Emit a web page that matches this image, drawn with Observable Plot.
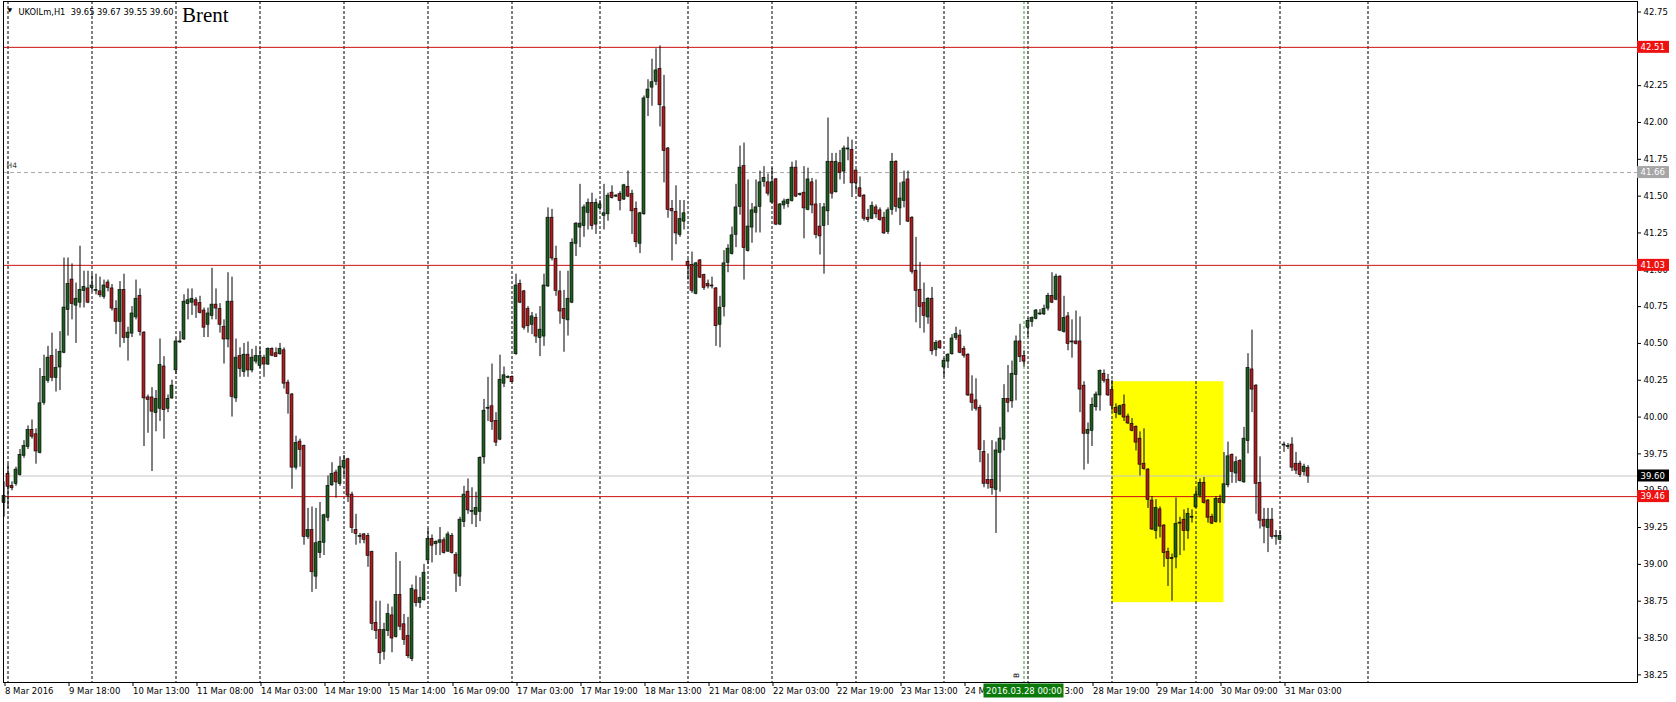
<!DOCTYPE html>
<html><head><meta charset="utf-8">
<script src="https://cdn.jsdelivr.net/npm/d3@7"></script>
<script src="https://cdn.jsdelivr.net/npm/@observablehq/plot@0.6"></script>
<style>html,body{margin:0;padding:0;background:#fff;overflow:hidden}</style>
</head><body><div id="chart"></div>
<script>
// ---- data: hourly UKOIL candles, bar index 0..326 ----
const opens = [
39.42,39.61,39.53,39.55,39.61,39.74,39.80,39.91,39.88,39.76,
40.10,40.25,40.41,40.27,40.34,40.44,40.73,40.93,40.76,40.78,
40.86,40.87,40.88,40.86,40.85,40.82,40.91,40.87,40.73,40.65,
40.86,40.54,40.57,40.68,40.82,40.57,40.13,40.13,40.03,40.06,
40.34,40.06,40.13,40.32,40.51,40.53,40.77,40.78,40.79,40.77,
40.72,40.63,40.69,40.76,40.73,40.61,40.53,40.78,40.13,40.41,
40.31,40.42,40.32,40.38,40.35,40.40,40.36,40.46,40.43,40.43,
40.45,40.23,40.15,39.66,39.83,39.80,39.19,39.23,38.92,39.08,
39.15,39.32,39.54,39.62,39.55,39.66,39.71,39.47,39.23,39.19,
39.20,39.19,39.08,38.60,38.55,38.41,38.55,38.65,38.51,38.79,
38.59,38.51,38.36,38.82,38.74,38.76,39.03,39.17,39.14,39.15,
39.16,39.09,39.19,39.06,38.92,39.29,39.49,39.36,39.34,39.36,
39.73,40.06,40.07,39.97,39.85,40.23,40.27,40.27,40.43,40.90,
40.85,40.73,40.63,40.67,40.54,40.55,40.89,41.35,41.07,40.85,
40.73,40.66,40.78,41.18,41.29,41.30,41.39,41.45,41.31,41.42,
41.37,41.38,41.52,41.50,41.51,41.48,41.56,41.51,41.41,41.18,
41.38,42.17,42.24,42.28,42.36,42.10,41.82,41.41,41.39,41.24,
41.33,41.05,41.03,40.84,41.06,40.96,40.90,40.89,40.87,40.63,
40.75,41.05,41.11,41.24,41.43,41.70,41.13,41.29,41.39,41.43,
41.60,41.59,41.46,41.61,41.31,41.44,41.45,41.47,41.69,41.51,
41.52,41.41,41.59,41.44,41.29,41.30,41.40,41.73,41.53,41.72,
41.67,41.82,41.81,41.67,41.55,41.50,41.35,41.35,41.42,41.40,
41.35,41.26,41.41,41.73,41.42,41.47,41.61,41.35,40.99,40.86,
40.77,40.68,40.80,40.46,40.51,40.34,40.38,40.43,40.54,40.55,
40.46,40.42,40.15,40.11,40.06,39.76,39.57,39.57,39.51,39.76,
39.85,40.12,40.11,40.29,40.51,40.41,40.61,40.65,40.67,40.70,
40.70,40.74,40.82,40.80,40.95,40.58,40.68,40.51,40.51,40.51,
40.21,39.89,39.91,40.07,40.15,40.29,40.25,40.18,40.06,40.02,
40.08,40.00,39.95,39.93,39.85,39.68,39.64,39.43,39.23,39.37,
39.26,39.08,39.04,39.05,39.28,39.30,39.23,39.32,39.39,39.47,
39.55,39.43,39.32,39.29,39.44,39.42,39.54,39.74,39.62,39.70,
39.56,39.84,40.32,40.21,39.55,39.30,39.25,39.30,39.19,39.17,
39.81,39.80,39.81,39.68,39.68,39.63,39.65];
const highs = [
39.56,39.68,39.56,39.66,39.78,39.84,39.94,39.98,39.92,40.33,
40.42,40.48,40.57,40.46,40.58,41.08,41.08,41.04,40.91,41.16,
40.99,40.99,40.97,40.97,40.95,40.93,40.93,40.90,40.79,40.92,
40.97,40.61,40.75,40.93,40.87,40.58,40.15,40.20,40.18,40.53,
40.41,40.15,40.25,40.53,40.58,40.83,40.87,40.87,40.81,40.82,
40.74,40.74,41.01,40.87,40.77,40.66,40.98,40.95,40.53,40.47,
40.50,40.51,40.46,40.48,40.47,40.42,40.47,40.47,40.47,40.50,
40.47,40.25,40.16,39.87,39.85,39.81,39.38,39.39,39.38,39.42,
39.34,39.60,39.69,39.64,39.73,39.74,39.72,39.49,39.34,39.21,
39.21,39.21,39.09,38.75,38.75,38.60,38.73,38.71,39.08,39.02,
38.66,38.64,38.86,38.92,38.91,39.00,39.24,39.20,39.16,39.25,
39.18,39.22,39.21,39.08,39.32,39.53,39.58,39.52,39.49,39.73,
40.12,40.27,40.36,40.03,40.42,40.34,40.28,40.28,40.97,40.93,
40.86,40.75,40.71,40.70,40.75,40.97,41.42,41.41,41.16,40.99,
40.86,40.99,41.21,41.32,41.58,41.44,41.48,41.52,41.48,41.47,
41.58,41.52,41.57,41.51,41.53,41.58,41.67,41.54,41.46,41.39,
42.18,42.29,42.43,42.50,42.52,42.32,41.83,41.47,41.57,41.47,
41.47,41.07,41.12,41.05,41.07,40.97,40.93,40.95,40.88,40.82,
41.13,41.17,41.29,41.58,41.84,41.86,41.61,41.45,41.61,41.67,
41.70,41.65,41.69,41.62,41.45,41.48,41.48,41.73,41.74,41.52,
41.70,41.69,41.62,41.61,41.45,41.45,42.03,41.79,41.79,41.81,
41.84,41.90,41.88,41.68,41.63,41.51,41.41,41.46,41.44,41.42,
41.39,41.42,41.79,41.74,41.59,41.67,41.67,41.36,41.22,41.05,
40.91,40.81,40.88,40.52,40.52,40.40,40.43,40.56,40.61,40.59,
40.48,40.43,40.28,40.26,40.08,39.84,39.75,39.84,39.83,39.93,
40.22,40.35,40.38,40.55,40.63,40.45,40.67,40.68,40.73,40.73,
40.76,40.84,40.98,40.97,40.96,40.82,40.71,40.66,40.72,40.68,
40.24,39.96,40.13,40.17,40.32,40.32,40.29,40.25,40.09,40.08,
40.15,40.02,39.99,39.94,39.90,39.92,39.65,39.46,39.44,39.39,
39.27,39.11,39.07,39.45,39.32,39.37,39.38,39.37,39.51,39.58,
39.59,39.44,39.34,39.46,39.47,39.76,39.83,39.75,39.73,39.71,
39.93,40.43,40.59,40.22,39.73,39.38,39.38,39.38,39.23,39.23,
39.83,39.82,39.86,39.76,39.70,39.68,39.67];
const lows = [
39.32,39.38,39.50,39.53,39.60,39.72,39.78,39.85,39.68,39.75,
40.08,40.23,40.24,40.17,40.18,40.43,40.55,40.66,40.50,40.74,
40.74,40.77,40.85,40.83,40.81,40.80,40.85,40.72,40.56,40.47,
40.50,40.38,40.54,40.66,40.55,39.80,39.89,39.63,39.90,39.97,
39.85,40.03,40.12,40.29,40.50,40.52,40.66,40.69,40.67,40.70,
40.54,40.54,40.66,40.66,40.57,40.36,40.47,40.00,40.10,40.27,
40.27,40.27,40.30,40.36,40.33,40.27,40.35,40.41,40.41,40.42,
40.19,40.02,39.51,39.64,39.66,39.13,39.17,38.81,38.83,39.04,
39.06,39.29,39.53,39.45,39.53,39.59,39.42,39.21,39.13,39.14,
39.14,38.98,38.55,38.49,38.32,38.35,38.51,38.40,38.50,38.55,
38.45,38.36,38.34,38.71,38.70,38.75,39.00,39.01,39.06,39.06,
39.07,39.08,39.07,38.81,38.85,39.25,39.34,39.27,39.25,39.29,
39.68,39.97,39.91,39.80,39.84,40.20,40.26,40.24,40.42,40.77,
40.59,40.57,40.56,40.50,40.41,40.48,40.88,41.06,40.82,40.63,
40.44,40.55,40.77,41.09,41.15,41.22,41.27,41.27,41.24,41.40,
41.27,41.33,41.48,41.49,41.40,41.47,41.49,41.24,41.15,41.11,
41.37,42.04,42.11,42.25,41.97,41.59,41.35,41.06,41.17,41.22,
41.27,40.93,40.84,40.83,40.94,40.86,40.87,40.87,40.48,40.47,
40.68,40.98,41.10,41.15,41.37,40.93,41.12,41.18,41.25,41.25,
41.56,41.50,41.45,41.30,41.30,41.41,41.42,41.46,41.49,41.50,
41.21,41.40,41.38,41.21,41.10,40.97,41.30,41.48,41.52,41.61,
41.58,41.74,41.49,41.53,41.49,41.33,41.32,41.34,41.35,41.33,
41.24,41.24,41.37,41.39,41.30,41.42,41.32,40.97,40.64,40.60,
40.57,40.63,40.42,40.41,40.46,40.27,40.33,40.42,40.52,40.43,
40.40,40.14,40.04,40.04,39.69,39.52,39.51,39.47,39.21,39.49,
39.77,40.03,40.06,40.11,40.37,40.34,40.54,40.61,40.66,40.69,
40.69,40.72,40.77,40.79,40.58,40.57,40.45,40.40,40.49,40.03,
39.64,39.68,39.80,40.04,40.04,40.23,40.14,40.04,39.99,40.01,
39.97,39.95,39.90,39.77,39.60,39.64,39.38,39.23,39.17,39.18,
38.98,38.85,38.75,38.97,39.06,39.09,39.17,39.28,39.38,39.45,
39.41,39.28,39.27,39.28,39.28,39.41,39.52,39.55,39.55,39.56,
39.55,39.75,40.03,39.34,39.24,39.14,39.08,39.17,39.13,39.16,
39.76,39.78,39.63,39.61,39.59,39.60,39.55];
const closes = [
39.46,39.53,39.52,39.64,39.74,39.80,39.91,39.87,39.77,40.09,
40.27,40.40,40.27,40.33,40.44,40.74,40.90,40.77,40.80,40.86,
40.88,40.78,40.89,40.86,40.83,40.89,40.88,40.74,40.65,40.86,
40.54,40.57,40.70,40.80,40.58,40.13,40.12,40.04,40.12,40.35,
40.05,40.12,40.21,40.51,40.51,40.78,40.79,40.80,40.76,40.71,
40.61,40.70,40.76,40.74,40.63,40.53,40.78,40.14,40.40,40.33,
40.42,40.32,40.40,40.41,40.41,40.36,40.46,40.42,40.41,40.46,
40.23,40.16,39.66,39.82,39.78,39.19,39.23,38.95,39.14,39.15,
39.33,39.53,39.61,39.56,39.66,39.70,39.47,39.25,39.21,39.19,
39.17,39.06,38.60,38.55,38.40,38.55,38.66,38.50,38.79,38.58,
38.49,38.38,38.83,38.74,38.77,38.94,39.17,39.13,39.15,39.16,
39.08,39.20,39.08,38.94,39.30,39.47,39.37,39.36,39.38,39.72,
40.04,40.06,39.97,39.83,40.25,40.28,40.27,40.24,40.89,40.78,
40.61,40.62,40.68,40.55,40.59,40.89,41.35,41.08,40.86,40.72,
40.67,40.80,41.18,41.31,41.31,41.42,41.45,41.30,41.45,41.44,
41.38,41.50,41.49,41.50,41.47,41.57,41.50,41.40,41.19,41.38,
42.16,42.22,42.27,42.35,42.12,41.81,41.41,41.40,41.25,41.34,
41.38,41.03,40.86,41.04,40.95,40.88,40.89,40.89,40.62,40.74,
41.04,41.14,41.23,41.42,41.69,41.15,41.29,41.40,41.42,41.59,
41.62,41.52,41.59,41.31,41.44,41.46,41.47,41.69,41.50,41.51,
41.42,41.61,41.44,41.24,41.23,41.42,41.73,41.52,41.73,41.66,
41.82,41.82,41.59,41.59,41.50,41.35,41.34,41.43,41.38,41.34,
41.25,41.40,41.73,41.43,41.48,41.59,41.33,40.99,40.86,40.75,
40.69,40.80,40.45,40.50,40.47,40.38,40.42,40.53,40.56,40.44,
40.42,40.15,40.10,40.06,39.78,39.55,39.55,39.52,39.77,39.85,
40.12,40.10,40.29,40.51,40.41,40.38,40.65,40.67,40.72,40.70,
40.73,40.82,40.78,40.95,40.59,40.67,40.50,40.51,40.50,40.19,
39.89,39.91,40.08,40.15,40.31,40.25,40.15,40.08,40.03,40.07,
40.00,39.96,39.91,39.83,39.68,39.65,39.44,39.24,39.38,39.26,
39.08,39.04,39.04,39.27,39.28,39.23,39.34,39.32,39.47,39.55,
39.42,39.32,39.28,39.44,39.42,39.54,39.73,39.63,39.69,39.57,
39.85,40.33,40.19,39.55,39.30,39.26,39.30,39.19,39.19,39.19,
39.81,39.80,39.66,39.64,39.61,39.66,39.60];

const dayStarts = [1,22,43,64,85,106,127,149,171,192,213,235,256,277,298,319,341];
const tickBars = [0,16,32,48,64,80,96,112,128,144,160,176,192,208,224,240,256,272,288,304,320];
// labels partly hidden behind the vertical-line time box are kept as the visible fragments
const tickLabels = ["8 Mar 2016","9 Mar 18:00","10 Mar 13:00","11 Mar 08:00","14 Mar 03:00","14 Mar 19:00",
  "15 Mar 14:00","16 Mar 09:00","17 Mar 03:00","17 Mar 19:00","18 Mar 13:00","21 Mar 08:00","22 Mar 03:00",
  "22 Mar 19:00","23 Mar 13:00","24 M","","28 Mar 19:00","29 Mar 14:00","30 Mar 09:00","31 Mar 03:00"];
const hiddenLabelTail = "3:00";
const priceTicks = [38.25,38.5,38.75,39,39.25,39.5,39.75,40,40.25,40.5,40.75,41,41.25,41.5,41.75,42,42.25,42.5,42.75];
const redLevels = [42.51, 41.03, 39.46];
const h4Level = 41.66;
const bidLevel = 39.60;
const markerBar = 255;
const markerLabel = "2016.03.28 00:00";
const markerName = "B";
const zoneBars = [277, 305];
const zonePrices = [38.74, 40.24];
const headerText = "UKOILm,H1\u00a0\u00a039.65 39.67 39.55 39.60";
const titleText = "Brent";

// ---- build ----
const candles = opens.map((o, i) => ({
  k: i, o, c: closes[i],
  h: Math.max(highs[i], o, closes[i]),
  l: Math.min(lows[i], o, closes[i])
}));

const W = 1676, H = 702;
const mL = 3, mR = 39, mT = 1, mB = 20;
const pxPerBar = 4, pxPerUnit = 147.3;
const xMin = -0.125, xMax = xMin + (W - mL - mR) / pxPerBar;
const yMax = 42.75 + 10.5 / pxPerUnit;
const yMin = yMax - (H - mT - mB) / pxPerUnit;
const px = n => n / pxPerUnit; // pixel height in price units

const BULL = "#1e5c1e", BEAR = "#a81e1e", RED = "#cc1111";

const boxes = [
  ...redLevels.map(v => ({v, bg: "#ee1111"})),
  {v: h4Level, bg: "#a6a6a6"},
  {v: bidLevel, bg: "#000000"}
];

const chart = Plot.plot({
  width: W, height: H,
  marginLeft: mL, marginRight: mR, marginTop: mT, marginBottom: mB,
  style: {fontFamily: "'DejaVu Sans', sans-serif", fontSize: "8.5px", background: "#ffffff", overflow: "visible"},
  x: {type: "linear", domain: [xMin, xMax], axis: null, label: null},
  y: {type: "linear", domain: [yMin, yMax], axis: null, label: null},
  color: {type: "identity"},
  marks: [
    Plot.rect([0], {x1: () => zoneBars[0], x2: () => zoneBars[1], y1: () => zonePrices[0], y2: () => zonePrices[1], fill: "#ffff00"}),
    Plot.ruleX(dayStarts, {stroke: "#000", strokeWidth: 1, strokeDasharray: "3,2"}),
    Plot.ruleX([markerBar], {stroke: "#3a8f3a", strokeWidth: 1, strokeDasharray: "3,2"}),
    Plot.ruleY([h4Level], {stroke: "#a8a8a8", strokeDasharray: "4,3"}),
    Plot.ruleY([bidLevel], {stroke: "#c4c4c4"}),
    Plot.ruleY(redLevels, {stroke: RED, strokeWidth: 1}),
    Plot.ruleX(candles, {x: "k", y1: "l", y2: "h", stroke: "#000", strokeWidth: 1}),
    Plot.rect(candles, {
      x1: d => d.k - 0.375, x2: d => d.k + 0.375, y1: "o", y2: "c",
      fill: d => d.c >= d.o ? BULL : BEAR, stroke: "#000", strokeWidth: 0.6,
      insetTop: -0.5, insetBottom: -0.5
    }),
    Plot.text(["H4"], {x: () => xMin, y: () => h4Level, dx: 3, dy: -7, textAnchor: "start", fontSize: 7.5, fill: "#444"}),
    Plot.text([markerName], {x: () => markerBar, frameAnchor: "bottom", dx: -5, dy: -7, rotate: -90, fontSize: 7.5, fill: "#000"}),
    Plot.frame({stroke: "#000"}),
    Plot.axisY(priceTicks, {anchor: "right", label: null, tickSize: 3, tickPadding: 3, tickFormat: d => d.toFixed(2), fontSize: 8.5}),
    Plot.axisX(tickBars, {anchor: "bottom", label: null, tickSize: 4, tickPadding: 1, textAnchor: "start", dx: 1,
      tickFormat: d => tickLabels[tickBars.indexOf(d)], fontSize: 8.5}),
    // price labels on the right scale
    Plot.rect(boxes, {x1: () => xMax, x2: () => xMax + 8, y1: d => d.v - px(6), y2: d => d.v + px(6), fill: "bg"}),
    Plot.text(boxes, {x: () => xMax, y: "v", dx: 3, text: d => d.v.toFixed(2), textAnchor: "start", fill: "#ffffff", fontSize: 8.5}),
    // vertical line time label on the time scale
    Plot.rect([0], {x1: () => markerBar - 10, x2: () => markerBar + 10, y1: () => yMin - px(1.5), y2: () => yMin - px(15.5), fill: "#0b7a0b"}),
    Plot.text([markerLabel], {x: () => markerBar, y: () => yMin - px(8.5), fill: "#ffffff", fontSize: 8.5}),
    Plot.text([hiddenLabelTail], {x: () => markerBar + 10, y: () => yMin - px(8.5), dx: 0.5, textAnchor: "start", fill: "#000", fontSize: 8.5}),
    // header
    Plot.text(["\u25BC"], {frameAnchor: "top-left", dx: 4, dy: 9, lineAnchor: "middle", fontSize: 6, fill: "#000"}),
    Plot.text([headerText], {frameAnchor: "top-left", dx: 15, dy: 8, fontSize: 8.3, fill: "#000"}),
    Plot.text([titleText], {frameAnchor: "top-left", dx: 178.5, dy: 6, fontFamily: "'Liberation Serif', 'Times New Roman', serif", fontSize: 21, fill: "#000"})
  ]
});
document.getElementById("chart").appendChild(chart);
</script>
</body></html>
